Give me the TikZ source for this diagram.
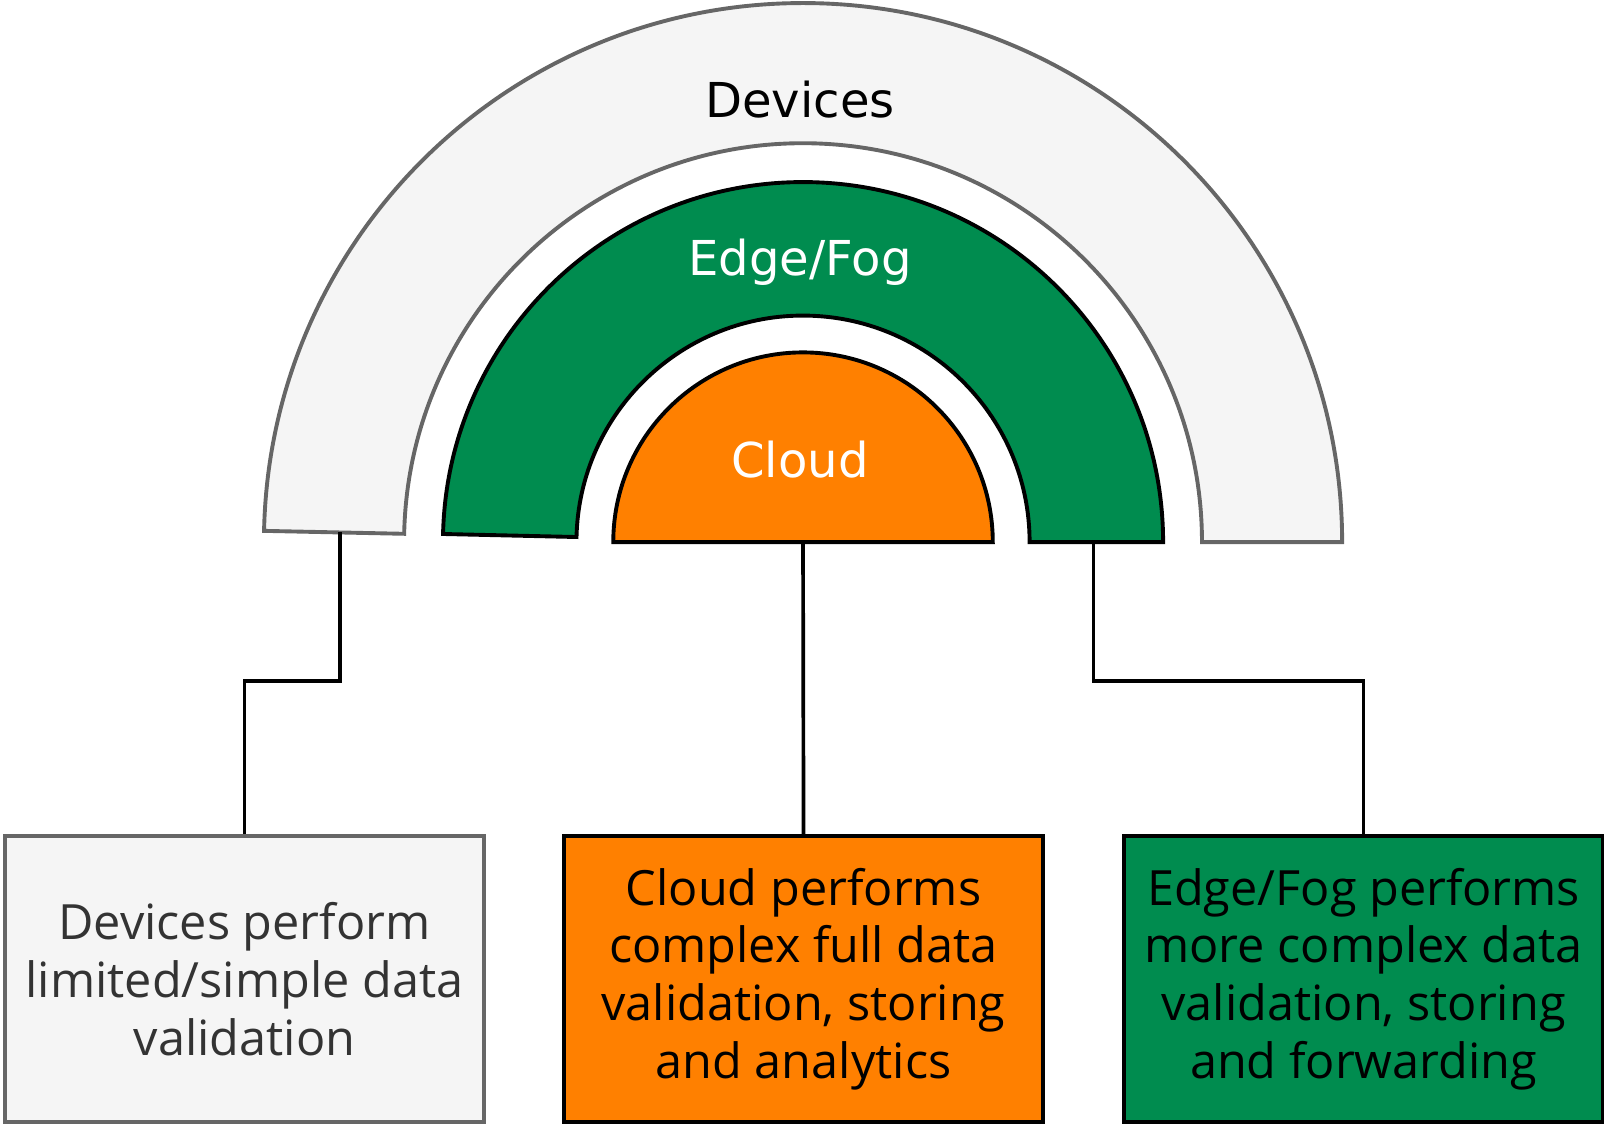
\documentclass[tikz,border=0pt]{standalone}
\usepackage{fontspec}
\setmainfont{Open Sans}
\newfontfamily\arcfont{DejaVu Sans}
\usetikzlibrary{calc, positioning}
\definecolor{devfill}{HTML}{F5F5F5}
\definecolor{devline}{HTML}{666666}
\definecolor{devtext}{HTML}{333333}
\definecolor{edgegreen}{HTML}{008C4F}
\definecolor{cloudorange}{HTML}{FF8000}

\begin{document}
\begin{tikzpicture}[
    x=1pt, y=1pt,
    line width=3.8pt,
    band/.style={draw, line join=miter},
    devband/.style={band, fill=devfill, draw=devline},
    edgeband/.style={band, fill=edgegreen, draw=black},
    cloudcap/.style={band, fill=cloudorange, draw=black},
    lab/.style={font=\arcfont\fontsize{47}{56}\selectfont, inner sep=0pt},
    blk/.style={draw, align=center, minimum width=468pt, minimum height=279pt,
                inner sep=0pt, font=\fontsize{47.5}{56.5}\selectfont},
    sig/.style={draw=black, line width=3.6pt},
  ]
  \useasboundingbox (0,0) rectangle (1568,1099);
  \coordinate (ctr)  at (785,569);
  \coordinate (bend) at (0,433);

  %% ---- nested bands -------------------------------------------------
  \draw[devband] ($(ctr)+(0:527)$) arc[start angle=0, end angle=178.8, radius=527]
    -- ($(ctr)+(178.8:390)$) arc[start angle=178.8, end angle=0, radius=390] -- cycle;
  \draw[edgeband] ($(ctr)+(0:352)$) arc[start angle=0, end angle=178.7, radius=352]
    -- ($(ctr)+(178.7:221.5)$) arc[start angle=178.7, end angle=0, radius=221.5] -- cycle;
  \draw[cloudcap] ($(ctr)+(0:185.5)$) arc[start angle=0, end angle=180, radius=185.5] -- cycle;

  \node[lab]             (devlab)   at (782,1002) {Devices};
  \node[lab,text=white]  (edgelab)  at (782,843)  {Edge/Fog};
  \node[lab,text=white]  (cloudlab) at (782,650)  {Cloud};

  \coordinate (devfoot)  at ($(ctr)+(178.8:453)$);
  \coordinate (edgefoot) at ($(ctr)+(0:284)$);

  %% ---- description boxes --------------------------------------------
  \node[blk, fill=devfill, draw=devline, text=devtext] (devbox) at (239,142)
    {Devices perform\\ limited/simple data\\ validation};
  \node[blk, fill=cloudorange] (cloudbox) at (785.5,142)
    {Cloud performs\\ complex full data\\ validation, storing\\ and analytics};
  \node[blk, fill=edgegreen] (edgebox) at (1333,142)
    {Edge/Fog performs\\ more complex data\\ validation, storing\\ and forwarding};

  %% ---- connectors ---------------------------------------------------
  \draw[sig] (devfoot) -- (devfoot |- bend) -| (devbox.north);
  \draw[sig] (ctr) -- (cloudbox.north);
  \draw[sig] (edgefoot) -- (edgefoot |- bend) -| (edgebox.north);

\end{tikzpicture}
\end{document}
